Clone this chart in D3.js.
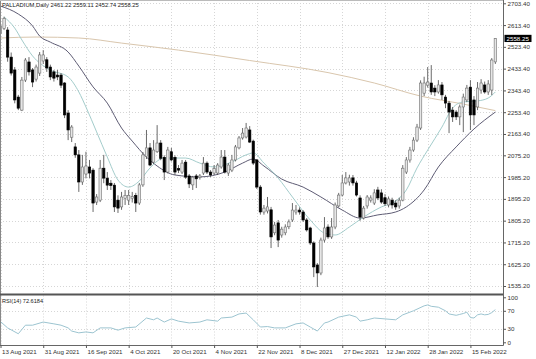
<!DOCTYPE html>
<html><head><meta charset="utf-8">
<script src="https://cdn.jsdelivr.net/npm/d3@7"></script>
<style>html,body{margin:0;padding:0;background:#fff;} svg{display:block;font-family:"Liberation Sans",Arial,sans-serif;}</style>
</head><body><svg id="c" width="536" height="359"></svg>
<script>
// ---- data ----
const opens=[2580,2600,2593,2481,2428,2316,2262,2386,2461,2428,2390,2415,2465,2470,2440,2420,2407,2407,2374,2250,
2150,2110,2077,1965,1998,2027,2014,1882,1890,2022,1981,1960,1952,1890,1862,1898,1890,1898,1910,1878,
1953,2070,2106,2047,2090,2126,2067,2006,2090,2067,2020,2006,2047,1990,1953,1990,1985,2002,2043,2006,
2002,2002,2027,2068,2002,2014,2056,2106,2147,2151,2180,2134,2056,1944,1841,1845,1850,1755,1796,1746,
1755,1780,1808,1841,1849,1841,1808,1775,1713,1622,1589,1725,1779,1738,1779,1866,1911,1961,1965,1982,
1961,1899,1816,1866,1890,1878,1932,1920,1900,1870,1890,1878,1866,1890,2006,2056,2097,2138,2188,2332,
2365,2374,2353,2337,2366,2316,2291,2262,2254,2234,2275,2304,2357,2304,2275,2345,2366,2337,2345,2461.22];
const highs=[2625,2648,2605,2500,2440,2325,2399,2477,2481,2436,2450,2502,2510,2481,2450,2428,2428,2415,2378,2262,
2200,2126,2097,2077,2090,2056,2022,1915,2056,2077,2006,1973,1961,1910,1924,1932,1932,1924,1920,1961,
2089,2180,2126,2138,2200,2138,2075,2110,2106,2075,2035,2056,2056,1998,1990,1998,1998,2068,2050,2014,
2035,2043,2097,2097,2043,2077,2118,2155,2188,2209,2196,2140,2060,1952,1870,1903,1862,1800,1808,1780,
1790,1810,1878,1870,1860,1849,1816,1780,1720,1630,1735,1820,1790,1816,1880,1920,1994,2006,1995,1994,
1970,1910,1866,1911,1910,1935,1945,1935,1915,1905,1900,1890,1900,2035,2068,2110,2150,2205,2385,2400,
2440,2448,2365,2386,2378,2325,2300,2275,2262,2285,2330,2366,2386,2320,2378,2390,2380,2386,2477,2559.11];
const lows=[2570,2593,2462,2405,2290,2262,2258,2378,2405,2357,2380,2403,2453,2420,2386,2380,2386,2353,2229,2138,
2130,2065,1924,1953,1980,1980,1841,1870,1882,1960,1932,1932,1841,1837,1850,1870,1870,1880,1841,1870,
1945,2060,2030,2040,2085,2055,1973,2000,2050,1994,2002,1998,1978,1940,1932,1940,1975,1994,1998,1985,
1994,1994,2020,2000,1990,2006,2050,2100,2140,2145,2126,2035,1936,1830,1830,1835,1692,1745,1696,1735,
1745,1770,1800,1830,1830,1800,1760,1705,1572,1531,1580,1715,1730,1730,1770,1860,1905,1955,1950,1950,
1905,1805,1810,1855,1880,1870,1890,1875,1866,1860,1855,1850,1855,1885,1998,2045,2090,2130,2180,2320,
2355,2325,2320,2330,2304,2270,2167,2213,2221,2200,2171,2295,2180,2200,2262,2330,2330,2325,2324,2452.74];
const closes=[2610,2641,2481,2415,2304,2270,2386,2469,2420,2378,2440,2490,2490,2436,2399,2394,2399,2365,2242,2180,
2192,2077,1965,2027,2031,2002,1878,1903,2022,1981,1952,1950,1862,1857,1903,1910,1910,1905,1878,1953,
2077,2106,2035,2097,2126,2063,2006,2097,2056,2006,2014,2043,1985,1957,1985,1978,1990,2043,2006,1994,
2020,2035,2068,2006,2035,2056,2110,2147,2167,2188,2130,2043,1944,1841,1857,1862,1738,1787,1725,1770,
1779,1800,1849,1849,1841,1808,1767,1713,1614,1589,1725,1775,1738,1779,1870,1911,1961,1982,1982,1961,
1911,1820,1857,1903,1899,1920,1899,1882,1875,1895,1870,1862,1890,2022,2056,2097,2138,2192,2374,2374,
2378,2337,2337,2366,2325,2291,2254,2234,2234,2275,2316,2353,2242,2242,2353,2374,2337,2370,2469,2558.25];

// moving averages read at sample bars: [bar, price]
const maShort=[[1,2647],[4,2601],[6,2552],[9,2486],[14,2428],[19,2399],[22,2337],[24,2275],[27,2172],[30,2068],
[33,1973],[36,1944],[39,1969],[42,2023],[46,2064],[52,2064],[56,2043],[60,2027],[65,2048],[69,2077],[71,2085],
[74,2043],[78,1981],[82,1903],[87,1808],[91,1754],[94,1746],[98,1779],[102,1820],[107,1862],[111,1886],[114,1932],
[117,2023],[120,2097],[124,2192],[127,2271],[130,2296],[134,2300],[137,2312],[139,2337]];
const maMid=[[0,2692],[5,2659],[9,2610],[11,2568],[14,2543],[19,2502],[22,2444],[26,2358],[30,2291],[34,2188],
[37,2134],[41,2068],[44,2031],[49,1994],[56,1986],[63,2006],[68,2043],[71,2060],[74,2031],[79,1977],[85,1944],
[90,1903],[96,1849],[101,1816],[106,1829],[111,1841],[114,1862],[119,1932],[123,2027],[128,2110],[133,2184],[139,2254]];
const maLong=[[0,2560],[10,2564],[22,2560],[34,2539],[50,2510],[70,2467],[92,2417],[105,2374],[118,2320],[130,2287],[139,2260]];

const rsi=[[0,46],[2,32],[5,19],[7,38],[9,38],[12,45],[15,41],[17,38],[19,32],[20,25],[22,21],[24,23],[26,21],[28,32],
[31,32],[33,27],[35,32],[38,34],[41,54],[43,50],[44,54],[46,45],[48,52],[50,47],[53,43],[56,45],[58,50],[61,47],[62,54],
[65,56],[67,63],[69,65],[71,50],[73,34],[75,35],[77,32],[80,32],[83,41],[85,43],[87,34],[89,25],[91,43],[92,45],[95,56],
[98,61],[100,56],[101,47],[103,50],[105,54],[108,52],[111,50],[113,61],[116,70],[119,81],[120,83],[121,80],[123,78],
[125,70],[126,63],[128,60],[129,62],[130,64],[131,67],[132,55],[133,54],[134,61],[135,63],[136,61],[137,62],[138,66],[139,72.6]];

const priceTicks=[2703.40,2613.40,2523.40,2433.40,2343.40,2253.40,2163.40,2075.20,1985.20,1895.20,1805.20,1715.20,1625.20,1535.20];
const rsiTicks=[100,70,30,0];
const dateTickBars=[0,12,24,36,48,60,72,84,96,108,120,132];
const dateLabels=["13 Aug 2021","31 Aug 2021","16 Sep 2021","4 Oct 2021","20 Oct 2021","4 Nov 2021","22 Nov 2021","8 Dec 2021","27 Dec 2021","12 Jan 2022","28 Jan 2022","15 Feb 2022"];
const header="PALLADIUM,Daily  2461.22 2559.11 2452.74 2558.25";
const rsiLabel="RSI(14) 72.6184";
const lastPrice=2558.25;

// ---- drawing ----
const svg=d3.select("#c");
const W=503.5, mainBottom=294, rsiTop=295.5, rsiBottom=345.5;
const N=opens.length;
const x=d3.scaleLinear().domain([0,N-1]).range([0.5,0.5+(N-1)*3.56]);
const y=d3.scaleLinear().domain([1535.2,2703.4]).range([286,3.3]);
const yr=d3.scaleLinear().domain([0,100]).range([342.3,297.3]);

svg.append("rect").attr("width",536).attr("height",359).attr("fill","#fff");
const defs=svg.append("defs");
defs.append("clipPath").attr("id","cm").append("rect").attr("x",0).attr("y",0).attr("width",W).attr("height",mainBottom);
defs.append("clipPath").attr("id","cr").append("rect").attr("x",0).attr("y",rsiTop).attr("width",W).attr("height",rsiBottom-rsiTop);

const gridC="#d6d6d6";
// grids
const grid=svg.append("g");
priceTicks.forEach(p=>{
  const yy=Math.round(y(p))+0.5;
  grid.append("line").attr("x1",0).attr("x2",W).attr("y1",yy).attr("y2",yy).attr("stroke",gridC).attr("stroke-dasharray","1,2");
});
[70,30].forEach(v=>{
  const yy=Math.round(yr(v))+0.5;
  grid.append("line").attr("x1",0).attr("x2",W).attr("y1",yy).attr("y2",yy).attr("stroke",gridC).attr("stroke-dasharray","1,2");
});
dateTickBars.forEach(b=>{
  const xx=Math.round(x(b))+0.5;
  grid.append("line").attr("x1",xx).attr("x2",xx).attr("y1",0).attr("y2",mainBottom).attr("stroke",gridC).attr("stroke-dasharray","1,2");
  grid.append("line").attr("x1",xx).attr("x2",xx).attr("y1",rsiTop).attr("y2",rsiBottom).attr("stroke",gridC).attr("stroke-dasharray","1,2");
});

// main panel
const gm=svg.append("g").attr("clip-path","url(#cm)");
const line=d3.line().x(d=>x(d[0])).y(d=>y(d[1])).curve(d3.curveMonotoneX);
gm.append("path").datum(maLong).attr("d",line).attr("fill","none").attr("stroke","#d9c6ad").attr("stroke-width",1);
gm.append("path").datum(maMid).attr("d",line).attr("fill","none").attr("stroke","#5e5c74").attr("stroke-width",1);
gm.append("path").datum(maShort).attr("d",line).attr("fill","none").attr("stroke","#a3cccb").attr("stroke-width",1);

const idx=d3.range(N);
const cg=gm.append("g");
cg.selectAll("line.w").data(idx).join("line")
  .attr("x1",i=>x(i)).attr("x2",i=>x(i)).attr("y1",i=>y(highs[i])).attr("y2",i=>y(lows[i]))
  .attr("stroke","#444").attr("stroke-width",0.8);
cg.selectAll("rect.b").data(idx).join("rect")
  .attr("x",i=>x(i)-1.2).attr("width",2.4)
  .attr("y",i=>y(Math.max(opens[i],closes[i])))
  .attr("height",i=>Math.max(0.8,Math.abs(y(opens[i])-y(closes[i]))))
  .attr("fill",i=>closes[i]>=opens[i]?"#e6e6e6":"#000")
  .attr("stroke",i=>closes[i]>=opens[i]?"#6e6e6e":"#000")
  .attr("stroke-width",0.6);

// rsi panel
const gr=svg.append("g").attr("clip-path","url(#cr)");
const rline=d3.line().x(d=>x(d[0])).y(d=>yr(d[1]));
gr.append("path").datum(rsi).attr("d",rline).attr("fill","none").attr("stroke","#9cc4d0").attr("stroke-width",1);

// frames
svg.append("line").attr("x1",0.5).attr("x2",0.5).attr("y1",0).attr("y2",rsiBottom).attr("stroke","#888");
svg.append("line").attr("x1",0).attr("x2",W).attr("y1",0.5).attr("y2",0.5).attr("stroke","#bbb");
svg.append("line").attr("x1",0).attr("x2",W).attr("y1",mainBottom+0.5).attr("y2",mainBottom+0.5).attr("stroke","#555").attr("stroke-width",2);
svg.append("line").attr("x1",W).attr("x2",W).attr("y1",0).attr("y2",rsiBottom).attr("stroke","#666");
svg.append("line").attr("x1",0).attr("x2",W).attr("y1",rsiBottom).attr("y2",rsiBottom).attr("stroke","#666");

// axes
const fs="6.2px", tc="#333";
const ay=svg.append("g").attr("transform",`translate(${W},0)`)
  .call(d3.axisRight(y).tickValues(priceTicks).tickFormat(d3.format(".2f")).tickSize(2.5).tickPadding(1.5));
const ar=svg.append("g").attr("transform",`translate(${W},0)`)
  .call(d3.axisRight(yr).tickValues(rsiTicks).tickFormat(d3.format("d")).tickSize(2.5).tickPadding(1.5));
const ax=svg.append("g").attr("transform",`translate(0,${rsiBottom})`)
  .call(d3.axisBottom(x).tickValues(dateTickBars).tickFormat((d,i)=>dateLabels[i]).tickSize(2.5).tickPadding(1.5));
ax.selectAll("text").attr("text-anchor","start").attr("dx","1");
[ay,ar,ax].forEach(g=>{
  g.select(".domain").remove();
  g.selectAll("line").attr("stroke","#555");
  g.selectAll("text").attr("font-size",fs).attr("fill",tc).attr("font-family","'Liberation Sans',Arial,sans-serif");
});

// last price box
const ly=y(lastPrice);
svg.append("rect").attr("x",W+1).attr("y",ly-3.6).attr("width",27).attr("height",7.2).attr("fill","#000");
svg.append("text").attr("x",W+3).attr("y",ly+2.2).attr("font-size",fs).attr("fill","#fff").text(d3.format(".2f")(lastPrice));

// labels
svg.append("text").attr("x",2).attr("y",7).attr("font-size","5.8px").attr("fill","#222").text(header);
svg.append("text").attr("x",2).attr("y",302.5).attr("font-size","5.6px").attr("fill","#222").text(rsiLabel);
</script></body></html>
